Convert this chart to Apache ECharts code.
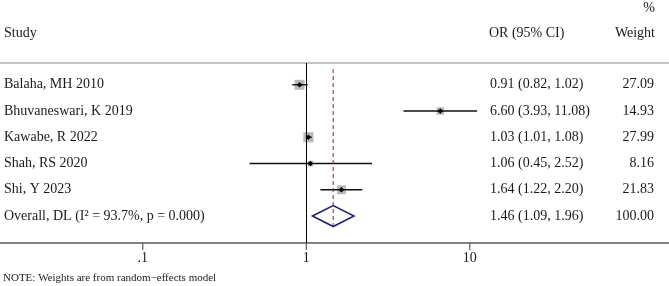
<!DOCTYPE html>
<html><head><meta charset="utf-8">
<script src="https://cdn.jsdelivr.net/npm/echarts@6/dist/echarts.min.js"></script>
<style>html,body{margin:0;padding:0;background:#fff}#c{width:669px;height:286px}</style>
</head><body><div id="c"></div>
<script>
// ---- data ----
const studies = ['Balaha, MH 2010', 'Bhuvaneswari, K 2019', 'Kawabe, R 2022', 'Shah, RS 2020', 'Shi, Y 2023'];
const orEst  = [0.91, 6.60, 1.03, 1.06, 1.64];
const ciLow  = [0.82, 3.93, 1.01, 0.45, 1.22];
const ciHigh = [1.02, 11.08, 1.08, 2.52, 2.20];
const weights = [27.09, 14.93, 27.99, 8.16, 21.83];
const overallLabel = 'Overall, DL (I² = 93.7%, p = 0.000)';
const overallEst = [1.46];
const overallLow = [1.09];
const overallHigh = [1.96];
const overallWeight = [100.00];
const xTicks = [0.1, 1, 10];
const xTickLabels = ['.1', '1', '10'];

// ---- derived ----
const FONT = '"Liberation Serif", "DejaVu Serif", serif';
const yMin = -0.83, yMax = 6.027;
const xMin = 0.01339, xMax = 165.3;

const rowLabels = studies.concat([overallLabel]);
const allEst = orEst.concat(overallEst), allLow = ciLow.concat(overallLow), allHigh = ciHigh.concat(overallHigh);
const allW = weights.concat(overallWeight);
const ciText = allEst.map((e, i) => e.toFixed(2) + ' (' + allLow[i].toFixed(2) + ', ' + allHigh[i].toFixed(2) + ')');
const wText = allW.map(w => w.toFixed(2));
const rowIdx = rowLabels.map((_, i) => i);
const studyData = studies.map((_, i) => [orEst[i], i, ciLow[i], ciHigh[i], weights[i]]);
const overallRow = studies.length;
const overallData = [[overallEst[0], overallRow, overallLow[0], overallHigh[0]]];
const tickData = xTicks.map(t => [t, yMax]);

const chart = echarts.init(document.getElementById('c'));
function yAxisBase(extra) {
  return Object.assign({
    type: 'value', inverse: true, min: yMin, max: yMax,
    axisLine: { show: false, onZero: false }, axisTick: { show: false }, splitLine: { show: false }
  }, extra);
}
function tickLabel(v) {
  const i = xTicks.findIndex(t => Math.abs(t - v) / t < 1e-6);
  return i >= 0 ? xTickLabels[i] : '';
}
chart.setOption({
  animation: false,
  grid: { left: 0, right: 0, top: 63, bottom: 43 },
  xAxis: [
    { type: 'log', logBase: 10, min: xMin, max: xMax, position: 'bottom',
      axisLine: { show: true, onZero: false, lineStyle: { color: '#5a5a5a', width: 1.5 } },
      axisTick: { show: false },
      axisLabel: { customValues: xTicks, formatter: tickLabel, fontFamily: FONT, fontSize: 14, color: '#1a1a1a', margin: 8 },
      splitLine: { show: false }, minorTick: { show: false } },
    { type: 'log', logBase: 10, min: xMin, max: xMax, position: 'top',
      axisLine: { show: true, onZero: false, lineStyle: { color: '#c4c4c4', width: 2 } },
      axisTick: { show: false }, axisLabel: { show: false }, splitLine: { show: false } }
  ],
  yAxis: [
    yAxisBase({ position: 'left',
      axisLabel: { inside: true, margin: 4, customValues: rowIdx, formatter: v => rowLabels[Math.round(v)],
                   fontFamily: FONT, fontSize: 14, color: '#1a1a1a' } }),
    yAxisBase({ position: 'left', offset: -490,
      axisLabel: { inside: true, margin: 0, customValues: rowIdx, formatter: v => ciText[Math.round(v)],
                   fontFamily: FONT, fontSize: 14, color: '#1a1a1a' } }),
    yAxisBase({ position: 'right',
      axisLabel: { inside: true, margin: 15, customValues: rowIdx, formatter: v => wText[Math.round(v)],
                   fontFamily: FONT, fontSize: 14, color: '#1a1a1a' } })
  ],
  graphic: [
    { type: 'text', x: 4, y: 33, style: { text: 'Study', font: '14px ' + FONT, fill: '#1a1a1a', verticalAlign: 'middle' } },
    { type: 'text', x: 489, y: 33, style: { text: 'OR (95% CI)', font: '14px ' + FONT, fill: '#1a1a1a', verticalAlign: 'middle' } },
    { type: 'text', x: 655, y: 33, style: { text: 'Weight', font: '14px ' + FONT, fill: '#1a1a1a', align: 'right', verticalAlign: 'middle' } },
    { type: 'text', x: 655, y: 8, style: { text: '%', font: '14px ' + FONT, fill: '#1a1a1a', align: 'right', verticalAlign: 'middle' } },
    { type: 'text', x: 3, y: 278, style: { text: 'NOTE: Weights are from random\u2212effects model', font: '11px ' + FONT, fill: '#1a1a1a', verticalAlign: 'middle' } }
  ],
  series: [
    // axis tick marks drawn through the x scale, just below the axis line
    { type: 'scatter', xAxisIndex: 0, yAxisIndex: 0, silent: true, clip: false, z: 5,
      data: tickData, symbol: 'rect', symbolSize: [1.2, 7], symbolOffset: [0, 3.5],
      itemStyle: { color: '#5a5a5a', opacity: 1 } },
    { type: 'line', xAxisIndex: 0, yAxisIndex: 0, symbol: 'none', silent: true,
      data: [[overallEst[0], -0.6], [overallEst[0], overallRow + 0.4]],
      lineStyle: { color: '#8e2424', width: 1, type: [4, 3] } },
    { type: 'custom', xAxisIndex: 0, yAxisIndex: 0, silent: true,
      encode: { x: 0, y: 1 },
      data: studyData,
      renderItem: function (params, api) {
        const row = api.value(1), est = api.value(0), lo = api.value(2), hi = api.value(3), w = api.value(4);
        const pE = api.coord([est, row]), pL = api.coord([lo, row]), pH = api.coord([hi, row]);
        const side = 1.92 * Math.sqrt(w);
        const d = 2.8;
        return { type: 'group', children: [
          { type: 'rect', shape: { x: pE[0] - side / 2, y: pE[1] - side / 2, width: side, height: side }, style: { fill: '#b9b9b9' } },
          { type: 'line', shape: { x1: pL[0], y1: pL[1], x2: pH[0], y2: pH[1] }, style: { stroke: '#111', lineWidth: 1.4 } },
          { type: 'polygon', shape: { points: [[pE[0] - d, pE[1]], [pE[0], pE[1] - d], [pE[0] + d, pE[1]], [pE[0], pE[1] + d]] }, style: { fill: '#000' } }
        ] };
      },
      markLine: { silent: true, symbol: 'none', label: { show: false },
        lineStyle: { color: '#000', width: 1, type: 'solid' },
        data: [{ xAxis: 1 }] }
    },
    { type: 'custom', xAxisIndex: 0, yAxisIndex: 0, silent: true,
      encode: { x: 0, y: 1 },
      data: overallData,
      renderItem: function (params, api) {
        const est = api.value(0), row = api.value(1), lo = api.value(2), hi = api.value(3);
        const h = 0.4;
        const pts = [api.coord([lo, row]), api.coord([est, row - h]), api.coord([hi, row]), api.coord([est, row + h])];
        return { type: 'polygon', shape: { points: pts }, style: { fill: 'none', stroke: '#1b1f6e', lineWidth: 1.5 } };
      }
    }
  ]
});
</script>
</body></html>
